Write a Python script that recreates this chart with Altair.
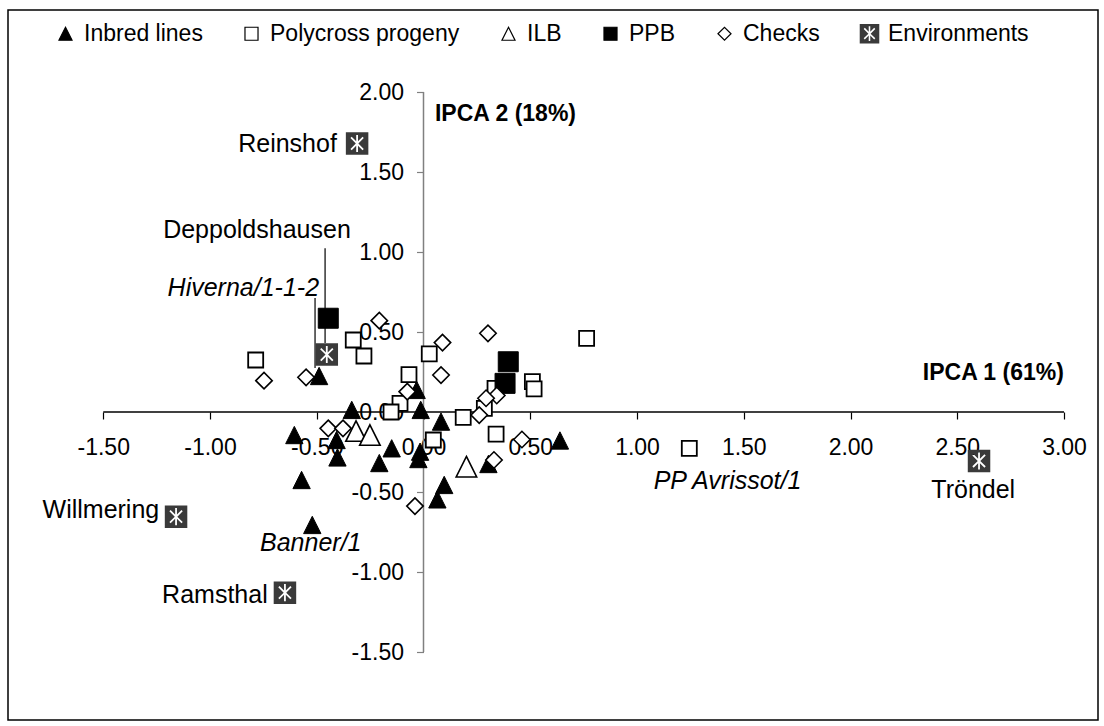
import math

import altair as alt
import pandas as pd

FONT = "Liberation Sans"

# ---- frame and scale geometry (pixels) ----
WIDTH, HEIGHT = 1090, 710          # plot rectangle = outer frame
PAD_L, PAD_T, PAD_R, PAD_B = 8, 10, 6, 6
X0_PX, Y0_PX = 423.5 - PAD_L, 412 - PAD_T   # where (0, 0) sits inside the frame
X_UNIT, Y_UNIT = 213.5, 160.0               # pixels per unit on each axis

x_domain = [-X0_PX / X_UNIT, (WIDTH - X0_PX) / X_UNIT]
y_domain = [-(HEIGHT - Y0_PX) / Y_UNIT, Y0_PX / Y_UNIT]

# ---- data ----
groups = ["Inbred lines", "Polycross progeny", "ILB", "PPB", "Checks", "Environments"]

inbred_x = [-0.489, -0.032, -0.336, -0.013, 0.082, -0.605, -0.407, -0.403, -0.571,
            -0.521, -0.149, -0.207, -0.016, -0.024, 0.097, 0.065, 0.304, 0.639]
inbred_y = [0.225, 0.138, 0.013, 0.013, -0.060, -0.144, -0.175, -0.284, -0.425,
            -0.706, -0.227, -0.319, -0.248, -0.294, -0.456, -0.546, -0.325, -0.178]

polycross_x = [-0.786, -0.329, -0.279, -0.068, 0.027, -0.110, -0.152, 0.186,
               0.285, 0.335, 0.510, 0.518, 0.764, 0.340, 0.046, 1.245]
polycross_y = [0.325, 0.450, 0.350, 0.234, 0.363, 0.054, 0.000, -0.034,
               0.023, 0.148, 0.190, 0.144, 0.460, -0.138, -0.175, -0.227]

ilb_x = [-0.316, -0.251, 0.201]
ilb_y = [-0.119, -0.144, -0.342]

ppb_x = [-0.446, 0.397, 0.382]
ppb_y = [0.586, 0.314, 0.179]

checks_x = [-0.747, -0.550, -0.207, 0.089, 0.082, 0.302, -0.076, 0.343,
            0.293, 0.261, -0.446, -0.377, 0.461, 0.330, -0.040]
checks_y = [0.196, 0.217, 0.571, 0.434, 0.231, 0.492, 0.127, 0.103,
            0.086, -0.019, -0.102, -0.102, -0.172, -0.300, -0.588]

env_names = ["Reinshof", "Deppoldshausen", "Willmering", "Ramsthal", "Tröndel"]
env_x = [-0.311, -0.453, -1.159, -0.649, 2.602]
env_y = [1.678, 0.359, -0.654, -1.129, -0.306]

x_ticks = [-1.5, -1.0, -0.5, 0.0, 0.5, 1.0, 1.5, 2.0, 2.5, 3.0]
y_ticks = [-1.5, -1.0, -0.5, 0.0, 0.5, 1.0, 1.5, 2.0]

# text annotations: centre x, baseline y
label_text = ["Reinshof", "Deppoldshausen", "Willmering", "Ramsthal", "Tröndel",
              "Hiverna/1-1-2", "Banner/1", "PP Avrissot/1",
              "IPCA 1 (61%)", "IPCA 2 (18%)"]
label_x = [-0.637, -0.780, -1.511, -0.977, 2.575, -0.844, -0.528, 1.424, 2.669, 0.384]
label_y = [1.623, 1.086, -0.663, -1.192, -0.538, 0.722, -0.866, -0.481, 0.200, 1.820]
label_kind = ["env", "env", "env", "env", "env",
              "entry", "entry", "entry", "axis", "axis"]

# leader lines from a label down to its marker
leader_x = [-0.461, -0.508]
leader_y = [1.023, 0.7125]
leader_y2 = [0.431, 0.275]


# ---- marker shapes ----
def env_symbol_path(extent=1.5, arm=0.76, half=0.08):
    """Filled square with a six-armed asterisk cut out of it.

    The square reaches +/-extent so the symbol is drawn larger than the
    other legend symbols at the same legend symbol size."""
    e = extent
    square = f"M{-e},{-e}L{e},{-e}L{e},{e}L{-e},{e}Z"
    arm, half = arm * e, half * e
    angles = [315, 270, 225, 135, 90, 45]   # reverse winding -> hole
    pts = []
    n = len(angles)
    for i, a in enumerate(angles):
        t = math.radians(a)
        dx, dy = math.cos(t), math.sin(t)
        nx, ny = -dy, dx
        pts.append((arm * dx + half * nx, arm * dy + half * ny))
        pts.append((arm * dx - half * nx, arm * dy - half * ny))
        b = angles[(i + 1) % n]
        diff = (a - b) % 360
        mid = math.radians(a - diff / 2)
        r = half / math.sin(math.radians(diff / 2))
        pts.append((r * math.cos(mid), r * math.sin(mid)))
    star = "M" + "L".join(f"{px:.3f},{py:.3f}" for px, py in pts) + "Z"
    return square + star


TRIANGLE = "M0,-1L1,1L-1,1Z"
ENV_SHAPE = env_symbol_path()

shape_range = [TRIANGLE, "square", TRIANGLE, "square", "diamond", ENV_SHAPE]
fill_range = ["#000000", "#ffffff", "#ffffff", "#000000", "#ffffff", "#3a3a3a"]
stroke_range = ["#000000", "#000000", "#000000", "#000000", "#000000", "transparent"]
marker_size = {"Inbred lines": 300, "Polycross progeny": 225, "ILB": 420,
               "PPB": 400, "Checks": 270, "Environments": 225}
marker_stroke = {"Inbred lines": 1.0, "Polycross progeny": 1.8, "ILB": 1.6,
                 "PPB": 1.0, "Checks": 1.6, "Environments": 0}

series = [
    ("Inbred lines", inbred_x, inbred_y),
    ("Polycross progeny", polycross_x, polycross_y),
    ("ILB", ilb_x, ilb_y),
    ("PPB", ppb_x, ppb_y),
    ("Checks", checks_x, checks_y),
    ("Environments", env_x, env_y),
]
rows = []
for name, xs, ys in series:
    for xv, yv in zip(xs, ys):
        rows.append({"x": xv, "y": yv, "group": name,
                     "sz": marker_size[name], "sw": marker_stroke[name]})
points = pd.DataFrame(rows)

labels = pd.DataFrame({"x": label_x, "y": label_y, "text": label_text, "kind": label_kind})
leaders = pd.DataFrame({"x": leader_x, "y": leader_y, "y2": leader_y2})
x_axis_line = pd.DataFrame({"x": [x_ticks[0]], "x2": [x_ticks[-1]], "y": [0.0]})
y_axis_line = pd.DataFrame({"x": [0.0], "y": [y_ticks[0]], "y2": [y_ticks[-1]]})

# ---- scales and axes ----
label_expr = "(datum.value < 0 ? '-' : '') + format(abs(datum.value), '.2f')"

x_axis = alt.Axis(
    values=x_ticks, orient="bottom", offset=-(HEIGHT - Y0_PX), domain=False, grid=False,
    ticks=True, tickSize=7, tickColor="#000000", tickWidth=1.2,
    labelPadding=17.5, labelFont=FONT, labelFontSize=23, labelColor="#000000",
    labelExpr=label_expr, labelOverlap=False, labelFlush=False, labelBound=False, title=None,
)
y_axis = alt.Axis(
    values=y_ticks, orient="left", offset=-X0_PX, domain=False, grid=False,
    ticks=True, tickSize=7, tickColor="#808080", tickWidth=1.2,
    labelPadding=13, labelFont=FONT, labelFontSize=23, labelColor="#000000",
    labelExpr=label_expr, labelOverlap=False, labelFlush=False, labelBound=False, title=None,
)
x_scale = alt.Scale(domain=x_domain, nice=False, zero=False)
y_scale = alt.Scale(domain=y_domain, nice=False, zero=False)
X = alt.X("x:Q", scale=x_scale, axis=x_axis)
Y = alt.Y("y:Q", scale=y_scale, axis=y_axis)

legend = alt.Legend(
    title=None, orient="none", legendX=46, legendY=12, direction="horizontal",
    symbolSize=170, symbolStrokeWidth=1.2, labelFont=FONT, labelFontSize=23,
    labelColor="#000000", labelOffset=7, columnPadding=37, padding=0, labelLimit=500,
)

# ---- layers ----
x_line = alt.Chart(x_axis_line).mark_rule(color="#000000", strokeWidth=1.5).encode(
    x=X, x2="x2:Q", y=Y)
y_line = alt.Chart(y_axis_line).mark_rule(color="#808080", strokeWidth=1.5).encode(
    x=X, y=Y, y2="y2:Q")
leader_lines = alt.Chart(leaders).mark_rule(color="#000000", strokeWidth=1.2).encode(
    x=X, y=Y, y2="y2:Q")

marks = alt.Chart(points).mark_point(filled=False, opacity=1).encode(
    x=X, y=Y,
    shape=alt.Shape("group:N", scale=alt.Scale(domain=groups, range=shape_range), legend=legend),
    fill=alt.Fill("group:N", scale=alt.Scale(domain=groups, range=fill_range), legend=legend),
    stroke=alt.Stroke("group:N", scale=alt.Scale(domain=groups, range=stroke_range), legend=legend),
    size=alt.Size("sz:Q", scale=None),
    strokeWidth=alt.StrokeWidth("sw:Q", scale=None),
)

env_text = alt.Chart(labels).transform_filter("datum.kind == 'env'").mark_text(
    font=FONT, fontSize=25, align="center", baseline="alphabetic", color="#000000"
).encode(x=X, y=Y, text="text:N")
entry_text = alt.Chart(labels).transform_filter("datum.kind == 'entry'").mark_text(
    font=FONT, fontSize=25, fontStyle="italic", align="center", baseline="alphabetic",
    color="#000000"
).encode(x=X, y=Y, text="text:N")
axis_text = alt.Chart(labels).transform_filter("datum.kind == 'axis'").mark_text(
    font=FONT, fontSize=23, fontWeight="bold", align="center", baseline="alphabetic",
    color="#000000"
).encode(x=X, y=Y, text="text:N")

chart = alt.layer(
    x_line, y_line, leader_lines, marks, env_text, entry_text, axis_text
).properties(
    width=WIDTH, height=HEIGHT,
    padding={"left": PAD_L, "top": PAD_T, "right": PAD_R, "bottom": PAD_B},
    autosize=alt.AutoSizeParams(type="none"),
    background="#ffffff",
).configure_view(
    stroke="#000000", strokeWidth=1.5
)

chart.save("out.html", embed_options={"renderer": "svg", "actions": False})
